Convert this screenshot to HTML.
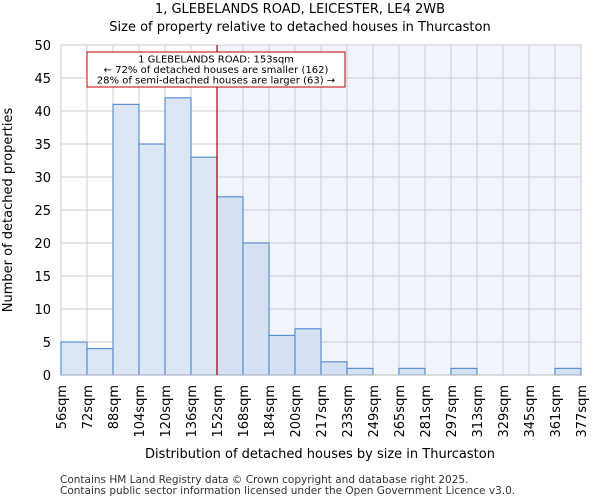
<!DOCTYPE html>
<html><head><meta charset="utf-8"><style>
body{margin:0;background:#fff;font-family:"DejaVu Sans","Liberation Sans",sans-serif}
</style></head><body>
<svg id="chart" width="600" height="500" xmlns="http://www.w3.org/2000/svg" font-family="DejaVu Sans, Liberation Sans, sans-serif">
<text x="300" y="13" text-anchor="middle" font-size="13">1, GLEBELANDS ROAD, LEICESTER, LE4 2WB</text>
<text x="300" y="31" text-anchor="middle" font-size="13">Size of property relative to detached houses in Thurcaston</text>
<g id="plot"></g>
<text x="320" y="458" text-anchor="middle" font-size="13">Distribution of detached houses by size in Thurcaston</text>
<text transform="translate(12,210) rotate(-90)" text-anchor="middle" font-size="13">Number of detached properties</text>
<text x="60" y="483" font-size="10.5" fill="#333">Contains HM Land Registry data © Crown copyright and database right 2025.</text>
<text x="60" y="494" font-size="10.5" fill="#333">Contains public sector information licensed under the Open Government Licence v3.0.</text>
</svg>
<script>
const binLabels=["56sqm","72sqm","88sqm","104sqm","120sqm","136sqm","152sqm","168sqm","184sqm","200sqm","217sqm","233sqm","249sqm","265sqm","281sqm","297sqm","313sqm","329sqm","345sqm","361sqm","377sqm"];
const counts=[5,4,41,35,42,33,27,20,6,7,2,1,0,1,0,1,0,0,0,1];
const yTicks=[0,5,10,15,20,25,30,35,40,45,50];
const markerBin=6.0;
const NS="http://www.w3.org/2000/svg";
const g=document.getElementById('plot');
const L=61,R=581,T=45,B=375,yMax=50;
const bw=(R-L)/counts.length;
const xs=i=>L+i*bw;
const ys=v=>B-(v/yMax)*(B-T);
function mk(t,a){const e=document.createElementNS(NS,t);for(const k in a)e.setAttribute(k,a[k]);g.appendChild(e);return e;}
const mx=xs(markerBin);
let e=mk('rect',{x:mx,y:T,width:R-mx,height:B-T,fill:'#f0f4fc'});


yTicks.forEach(v=>{
 let l=mk('line',{x1:L,x2:R,y1:ys(v),y2:ys(v),stroke:'#ccc'});
 
 
 let t=mk('text',{x:L-10,y:ys(v)+5,'text-anchor':'end','font-size':13});
 t.textContent=v;
 
 
});
binLabels.forEach((s,i)=>{
 let l=mk('line',{x1:xs(i),x2:xs(i),y1:T,y2:B,stroke:'#ccc'});
 
 
 let t=mk('text',{transform:`translate(${xs(i)+5},${B+10}) rotate(-90)`,'text-anchor':'end','font-size':13});
 t.textContent=s;
 
 
});
counts.forEach((v,i)=>{
 if(v<=0)return;
 let r=mk('rect',{x:xs(i),y:ys(v),width:bw,height:B-ys(v),fill:i>=6?'#d5e1f2':'#dce6f4',stroke:'#5b8fd6','stroke-width':1.2});
 
 
});
e=mk('line',{x1:L,x2:R,y1:B,y2:B,stroke:'#bbb'});


e=mk('line',{x1:mx,x2:mx,y1:T,y2:B,stroke:'#c00000','stroke-width':1.2});


e=mk('rect',{x:87,y:52,width:258,height:35,fill:'#fff',stroke:'#c00000'});


["1 GLEBELANDS ROAD: 153sqm","← 72% of detached houses are smaller (162)","28% of semi-detached houses are larger (63) →"].forEach((s,i)=>{
 let t=mk('text',{x:216,y:62.5+i*10.5,'text-anchor':'middle','font-size':10});
 t.textContent=s;
 
 
});
</script>
</body></html>
